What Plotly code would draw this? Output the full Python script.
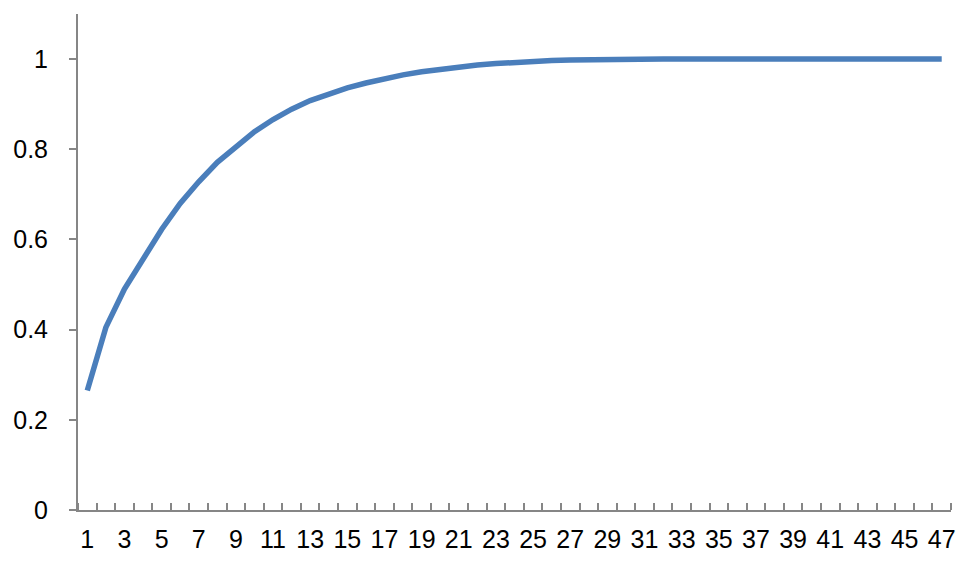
import plotly.graph_objects as go

categories = list(range(1, 48))
values = [0.265, 0.405, 0.49, 0.558, 0.622, 0.68, 0.728, 0.771, 0.807, 0.839,
          0.866, 0.889, 0.908, 0.923, 0.936, 0.947, 0.957, 0.965, 0.972, 0.978,
          0.983, 0.987, 0.990, 0.993, 0.995, 0.997, 0.998, 0.999, 0.9995, 1.0,
          1.0, 1.0, 1.0, 1.0, 1.0, 1.0, 1.0, 1.0, 1.0, 1.0,
          1.0, 1.0, 1.0, 1.0, 1.0, 1.0, 1.0]
x_tick_labels = [str(c) for c in categories[::2]]
y_ticks = [0, 0.2, 0.4, 0.6, 0.8, 1]
y_tick_labels = ["0", "0.2", "0.4", "0.6", "0.8", "1"]

axis_color = "#868686"

fig = go.Figure(go.Scatter(
    x=categories, y=values, mode="lines",
    line=dict(color="#4A7EBB", width=5.5),
    hoverinfo="skip",
))

fig.update_layout(
    width=958, height=556,
    margin=dict(l=70, r=15, t=6, b=54),
    paper_bgcolor="white", plot_bgcolor="white",
    showlegend=False,
    font=dict(family="Liberation Sans, Arial, sans-serif", size=25, color="black"),
)

fig.update_xaxes(
    range=[0.5, 47.5],
    tickmode="array", tickvals=categories[::2], ticktext=x_tick_labels,
    ticks="", showgrid=False, zeroline=False,
    showline=True, linecolor=axis_color, linewidth=2,
    minor=dict(tick0=0.5, dtick=1, ticks="inside", ticklen=7,
               tickcolor=axis_color, tickwidth=1.5, showgrid=False),
    tickfont=dict(size=25),
    ticklabelstandoff=6,
)

fig.update_yaxes(
    range=[0, 1.1],
    tickmode="array", tickvals=y_ticks, ticktext=y_tick_labels,
    ticks="outside", ticklen=7, tickcolor=axis_color, tickwidth=1.5,
    showgrid=False, zeroline=False,
    showline=True, linecolor=axis_color, linewidth=2,
    tickfont=dict(size=25),
    ticklabelstandoff=16,
)

fig.write_html("out.html")
